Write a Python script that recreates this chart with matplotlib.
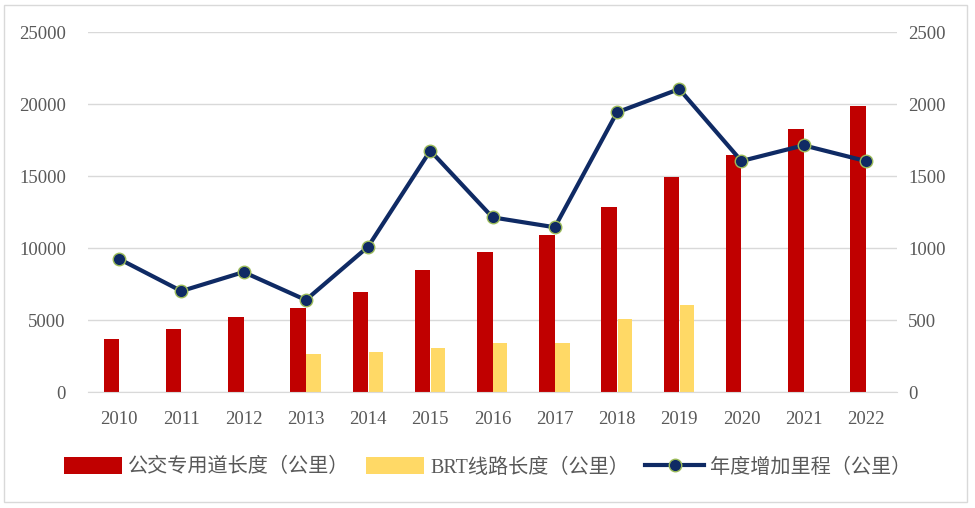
import numpy as np
import matplotlib.pyplot as plt
from matplotlib.patches import Rectangle

plt.rcParams['font.family'] = ['Liberation Serif', 'Noto Sans CJK SC']

# data
years = ['2010', '2011', '2012', '2013', '2014', '2015', '2016',
         '2017', '2018', '2019', '2020', '2021', '2022']
bus_lane = [3660, 4380, 5210, 5810, 6920, 8470, 9700,
            10900, 12850, 14900, 16460, 18290, 19840]
brt_len = [0, 0, 0, 2660, 2780, 3030, 3380,
           3380, 5090, 6040, 0, 0, 0]
annual_add = [924, 701, 833, 639, 1009, 1676, 1213,
              1144, 1942, 2104, 1604, 1713, 1604]

red = '#C00000'
yellow = '#FFD966'
navy = '#0F2A64'
gray = '#595959'

fig = plt.figure(figsize=(9.75, 5.08), dpi=100)
fig.patches.append(Rectangle((0.004, 0.012), 0.988, 0.978, transform=fig.transFigure,
                             fill=False, edgecolor='#D9D9D9', linewidth=1))
ax = fig.add_axes([0.0903, 0.2283, 0.8297, 0.7087])
ax2 = ax.twinx()

x = np.arange(len(years))
w = 0.25
b1 = ax.bar(x - w / 2, bus_lane, width=w, color=red, zorder=2)
brt_x = [i for i in x if brt_len[i] > 0]
b2 = ax.bar(x[brt_x] + w / 2, [brt_len[i] for i in brt_x], width=0.23, color=yellow, zorder=2)

ax.set_ylim(0, 25000)
ax.set_yticks(range(0, 25001, 5000))
ax.set_xlim(-0.5, len(years) - 0.5)
ax.set_xticks(x)
ax.set_xticklabels(years)
ax.yaxis.grid(True, color='#D9D9D9', linewidth=1, zorder=0)
ax.set_axisbelow(True)

ln, = ax2.plot(x, annual_add, color=navy, linewidth=3, marker='o', markersize=9,
               markerfacecolor=navy, markeredgecolor='#9BBB59', markeredgewidth=1, zorder=3)
ax2.set_ylim(0, 2500)
ax2.set_yticks(range(0, 2501, 500))

for a in (ax, ax2):
    for s in a.spines.values():
        s.set_visible(False)
    a.tick_params(length=0, labelsize=13.5, colors=gray)
ax.spines['bottom'].set_visible(True)
ax.spines['bottom'].set_color('#D9D9D9')
ax.tick_params(axis='x', pad=14)
ax.tick_params(axis='y', pad=16)
ax2.tick_params(axis='y', pad=8)

leg = fig.legend([b1, b2, ln],
                 ['公交专用道长度（公里）', 'BRT线路长度（公里）', '年度增加里程（公里）'],
                 loc='center', bbox_to_anchor=(0.5, 0.08), ncol=3, frameon=False,
                 fontsize=14.5, handlelength=2.9, handleheight=0.9, columnspacing=0.8,
                 handletextpad=0.3)
for t in leg.get_texts():
    t.set_color(gray)

fig.savefig('out.png', dpi=100)
